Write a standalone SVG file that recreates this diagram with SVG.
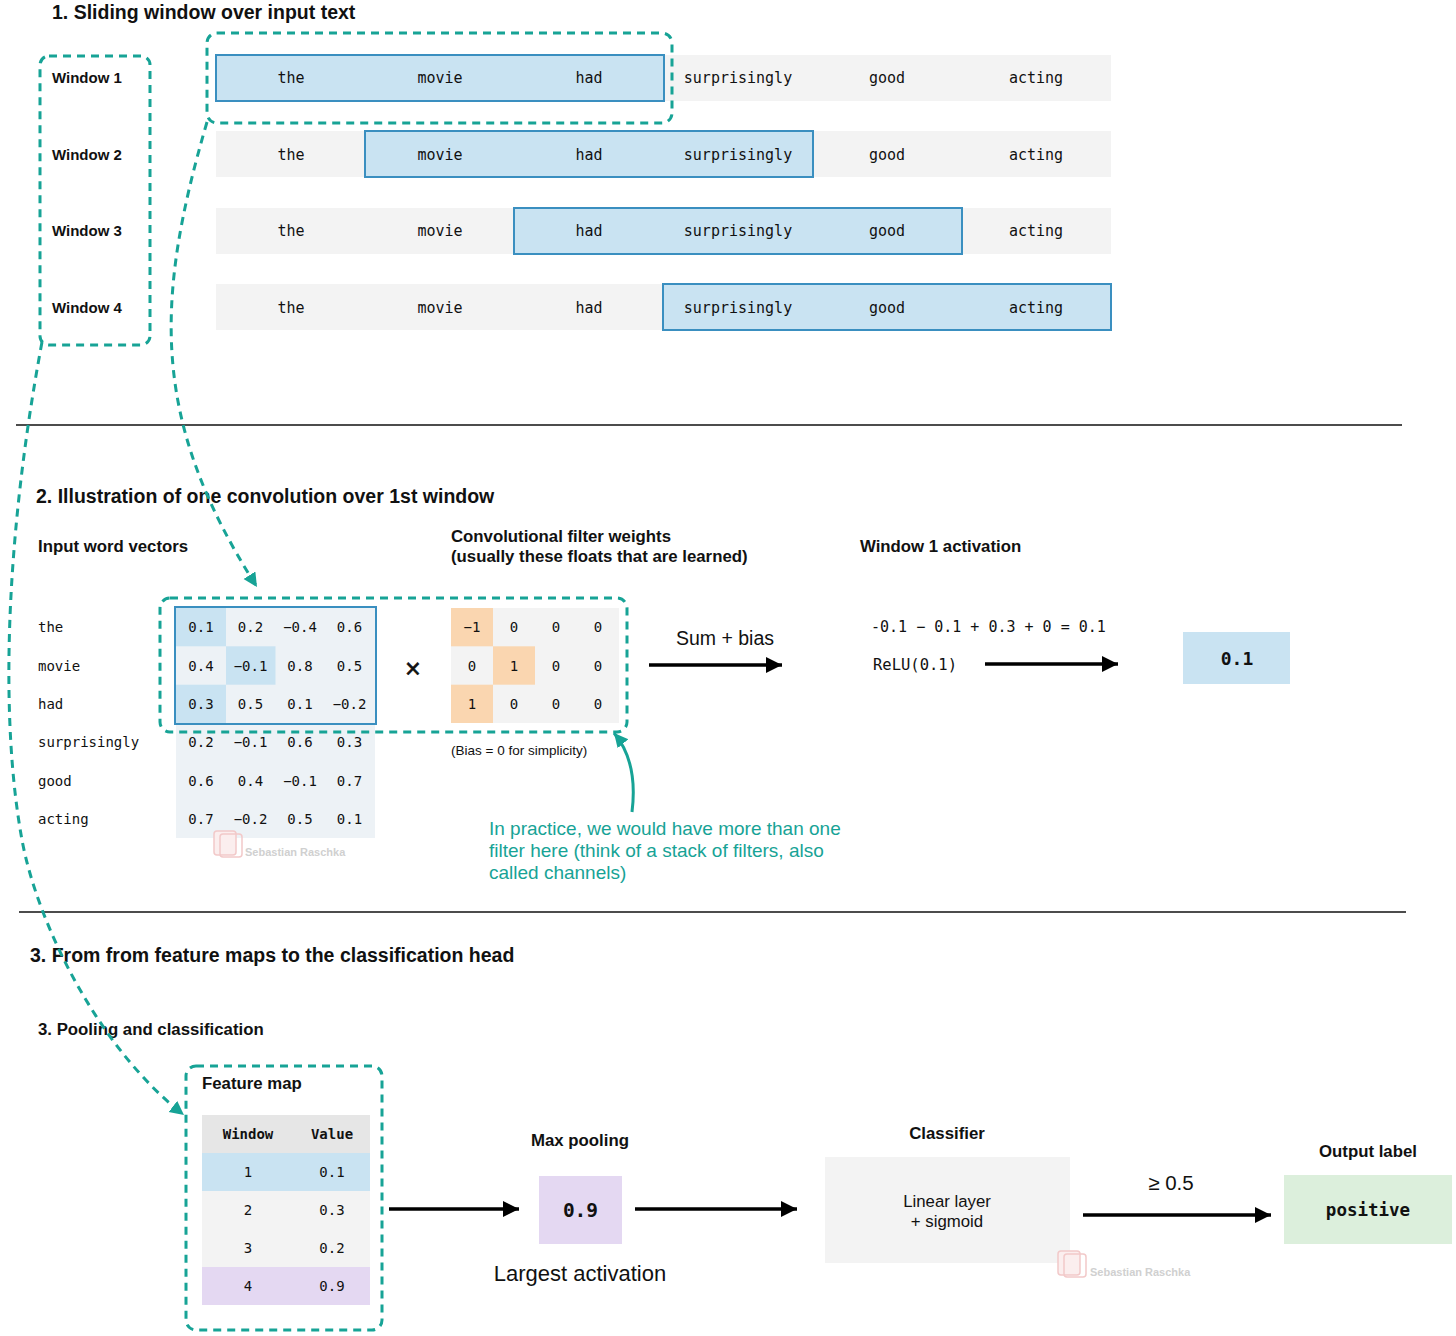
<svg xmlns="http://www.w3.org/2000/svg" width="1456" height="1336" viewBox="0 0 1456 1336">
<style>
.h1{font-family:"Liberation Sans",Arial,sans-serif;font-weight:bold;font-size:19.5px;fill:#111}
.h2{font-family:"Liberation Sans",Arial,sans-serif;font-weight:bold;font-size:16.8px;fill:#111}
.wl{font-family:"Liberation Sans",Arial,sans-serif;font-weight:bold;font-size:15px;fill:#111}
.sans{font-family:"Liberation Sans",Arial,sans-serif;fill:#111}
.mono{font-family:"DejaVu Sans Mono","Liberation Mono",monospace;fill:#111}
.w{font-size:15px;text-anchor:middle;dominant-baseline:central}
.m{font-size:14px;text-anchor:middle;dominant-baseline:central}
.lbl{font-size:14px;dominant-baseline:central}
.mb{font-weight:bold;text-anchor:middle;dominant-baseline:central}
.teal{font-family:"Liberation Sans",Arial,sans-serif;font-size:19px;fill:#17a396}
.wm{font-family:"Liberation Sans",Arial,sans-serif;font-weight:bold;font-size:11px;fill:#d0d0d0}
.bg{fill:#f3f3f3}
.hl{fill:#c9e3f2;stroke:#3a8fc0;stroke-width:2}
.dash{fill:none;stroke:#17a396;stroke-width:3;stroke-dasharray:8 6}
.arr{fill:none;stroke:#000;stroke-width:3.5}
.sep{stroke:#111;stroke-width:1.5}
</style>
<defs>
<marker id="ta" markerUnits="userSpaceOnUse" markerWidth="16" markerHeight="16" refX="14" refY="7" orient="auto"><path d="M0,0 L14,7 L0,14 z" fill="#17a396"/></marker>
<marker id="ba" markerUnits="userSpaceOnUse" markerWidth="18" markerHeight="18" refX="16" refY="8" orient="auto"><path d="M0,0 L16,8 L0,16 z" fill="#000"/></marker>
</defs>
<rect width="1456" height="1336" fill="#fff"/>

<!-- Section 1 -->
<text class="h1" x="52" y="19">1. Sliding window over input text</text>
<g id="window-labels">
<rect class="dash" x="40" y="56" width="110" height="289" rx="9"/>
<text class="wl" x="52" y="83">Window 1</text>
<text class="wl" x="52" y="160">Window 2</text>
<text class="wl" x="52" y="236">Window 3</text>
<text class="wl" x="52" y="313">Window 4</text>
</g>
<g id="row1">
<rect class="bg" x="216" y="55" width="895" height="46"/>
<rect class="hl" x="216" y="55" width="448" height="46"/>
<g class="mono w"><text x="291" y="78">the</text><text x="440" y="78">movie</text><text x="589" y="78">had</text><text x="738" y="78">surprisingly</text><text x="887" y="78">good</text><text x="1036" y="78">acting</text></g>
</g>
<g id="row2">
<rect class="bg" x="216" y="131" width="895" height="46"/>
<rect class="hl" x="365" y="131" width="448" height="46"/>
<g class="mono w"><text x="291" y="155">the</text><text x="440" y="155">movie</text><text x="589" y="155">had</text><text x="738" y="155">surprisingly</text><text x="887" y="155">good</text><text x="1036" y="155">acting</text></g>
</g>
<g id="row3">
<rect class="bg" x="216" y="208" width="895" height="46"/>
<rect class="hl" x="514" y="208" width="448" height="46"/>
<g class="mono w"><text x="291" y="231">the</text><text x="440" y="231">movie</text><text x="589" y="231">had</text><text x="738" y="231">surprisingly</text><text x="887" y="231">good</text><text x="1036" y="231">acting</text></g>
</g>
<g id="row4">
<rect class="bg" x="216" y="284" width="895" height="46"/>
<rect class="hl" x="663" y="284" width="448" height="46"/>
<g class="mono w"><text x="291" y="308">the</text><text x="440" y="308">movie</text><text x="589" y="308">had</text><text x="738" y="308">surprisingly</text><text x="887" y="308">good</text><text x="1036" y="308">acting</text></g>
</g>
<g id="window1-group"><rect class="dash" x="207" y="33" width="465" height="90" rx="10"/></g>

<line class="sep" x1="16" y1="425" x2="1402" y2="425"/>

<!-- Section 2 -->
<text class="h1" x="36" y="503">2. Illustration of one convolution over 1st window</text>
<text class="h2" x="38" y="552">Input word vectors</text>
<text class="h2" x="451" y="542">Convolutional filter weights</text>
<text class="h2" x="451" y="562">(usually these floats that are learned)</text>
<text class="h2" x="860" y="552">Window 1 activation</text>

<g id="word-labels" class="mono lbl">
<text x="38" y="627">the</text><text x="38" y="665.5">movie</text><text x="38" y="704">had</text>
<text x="38" y="742">surprisingly</text><text x="38" y="780.5">good</text><text x="38" y="819">acting</text>
</g>

<g id="input-matrix">
<rect x="176" y="608" width="199" height="230" fill="#edf2f6"/>
<rect x="176" y="608" width="50" height="38.3" fill="#c9e3f2"/>
<rect x="226" y="646.3" width="49.5" height="38.4" fill="#c9e3f2"/>
<rect x="176" y="684.7" width="50" height="38.3" fill="#c9e3f2"/>
<rect x="175" y="607" width="201" height="117" fill="none" stroke="#3a8fc0" stroke-width="2"/>
<g class="mono m">
<text x="201" y="627">0.1</text><text x="250.5" y="627">0.2</text><text x="300" y="627">−0.4</text><text x="349.5" y="627">0.6</text>
<text x="201" y="665.5">0.4</text><text x="250.5" y="665.5">−0.1</text><text x="300" y="665.5">0.8</text><text x="349.5" y="665.5">0.5</text>
<text x="201" y="704">0.3</text><text x="250.5" y="704">0.5</text><text x="300" y="704">0.1</text><text x="349.5" y="704">−0.2</text>
<text x="201" y="742">0.2</text><text x="250.5" y="742">−0.1</text><text x="300" y="742">0.6</text><text x="349.5" y="742">0.3</text>
<text x="201" y="780.5">0.6</text><text x="250.5" y="780.5">0.4</text><text x="300" y="780.5">−0.1</text><text x="349.5" y="780.5">0.7</text>
<text x="201" y="819">0.7</text><text x="250.5" y="819">−0.2</text><text x="300" y="819">0.5</text><text x="349.5" y="819">0.1</text>
</g>
</g>

<text class="sans" x="413" y="678" font-size="27" text-anchor="middle" stroke="#111" stroke-width="0.6">×</text>

<g id="filter-matrix">
<rect class="bg" x="451" y="608" width="168" height="115"/>
<rect x="451" y="608" width="42" height="38.3" fill="#fad6b0"/>
<rect x="493" y="646.3" width="42" height="38.4" fill="#fad6b0"/>
<rect x="451" y="684.7" width="42" height="38.3" fill="#fad6b0"/>
<g class="mono m">
<text x="472" y="627">−1</text><text x="514" y="627">0</text><text x="556" y="627">0</text><text x="598" y="627">0</text>
<text x="472" y="665.5">0</text><text x="514" y="665.5">1</text><text x="556" y="665.5">0</text><text x="598" y="665.5">0</text>
<text x="472" y="704">1</text><text x="514" y="704">0</text><text x="556" y="704">0</text><text x="598" y="704">0</text>
</g>
</g>
<g id="conv-group"><rect class="dash" x="160" y="598" width="467" height="134" rx="10"/></g>
<text class="sans" x="451" y="755" font-size="13.5">(Bias = 0 for simplicity)</text>

<g id="note">
<text class="teal" x="489" y="835">In practice, we would have more than one</text>
<text class="teal" x="489" y="857">filter here (think of a stack of filters, also</text>
<text class="teal" x="489" y="879">called channels)</text>
</g>

<g id="sum-bias">
<text class="sans" x="725" y="645" font-size="19.5" text-anchor="middle">Sum + bias</text>
</g>
<g id="relu">
<text class="mono" x="871" y="632" font-size="15">-0.1 − 0.1 + 0.3 + 0 = 0.1</text>
<text class="mono" x="873" y="670" font-size="15.5">ReLU(0.1)</text>
</g>
<g id="activation">
<rect x="1183" y="632" width="107" height="52" fill="#c9e3f2"/>
<text class="mono mb" x="1237" y="658" font-size="18">0.1</text>
</g>

<line class="sep" x1="19" y1="912" x2="1406" y2="912"/>

<!-- Section 3 -->
<text class="h1" x="30" y="962">3. From from feature maps to the classification head</text>
<text class="h2" x="38" y="1035">3. Pooling and classification</text>

<g id="feature-map">
<rect class="dash" x="186" y="1066" width="196" height="264" rx="10"/>
<text class="h2" x="202" y="1089">Feature map</text>
<rect x="202" y="1115" width="168" height="38" fill="#e6e6e6"/>
<rect x="202" y="1153" width="168" height="38" fill="#c9e3f2"/>
<rect x="202" y="1191" width="168" height="76" fill="#f3f3f3"/>
<rect x="202" y="1267" width="168" height="38" fill="#e4d8f2"/>
<g class="mono m">
<text x="248" y="1134" font-weight="bold">Window</text><text x="332" y="1134" font-weight="bold">Value</text>
<text x="248" y="1172">1</text><text x="332" y="1172">0.1</text>
<text x="248" y="1210">2</text><text x="332" y="1210">0.3</text>
<text x="248" y="1248">3</text><text x="332" y="1248">0.2</text>
<text x="248" y="1286">4</text><text x="332" y="1286">0.9</text>
</g>
</g>

<g id="max-pooling">
<text class="h2" x="580" y="1146" text-anchor="middle">Max pooling</text>
<rect x="539" y="1176" width="83" height="68" fill="#e4d8f2"/>
<text class="mono mb" x="580.5" y="1210" font-size="19.5">0.9</text>
<text class="sans" x="580" y="1281" font-size="22" text-anchor="middle">Largest activation</text>
</g>

<g id="classifier">
<text class="h2" x="947" y="1139" text-anchor="middle">Classifier</text>
<rect class="bg" x="825" y="1157" width="245" height="106"/>
<text class="sans" x="947" y="1207" font-size="16.8" text-anchor="middle">Linear layer</text>
<text class="sans" x="947" y="1227" font-size="16.8" text-anchor="middle">+ sigmoid</text>
</g>
<text class="sans" x="1171" y="1190" font-size="20.5" text-anchor="middle">≥ 0.5</text>

<g id="output-label">
<text class="h2" x="1368" y="1157" text-anchor="middle">Output label</text>
<rect x="1284" y="1175" width="168" height="69" fill="#dcefdc"/>
<text class="mono mb" x="1368" y="1210" font-size="17.5">positive</text>
</g>

<g id="watermarks">
<rect x="214" y="831" width="22" height="24" rx="3" fill="#fbeeee" stroke="#f2c9c9" stroke-width="1.5"/>
<rect x="220" y="834" width="22" height="23" rx="3" fill="none" stroke="#f2c9c9" stroke-width="1.5"/>
<text class="wm" x="245" y="856">Sebastian Raschka</text>
<rect x="1058" y="1251" width="22" height="24" rx="3" fill="#fbeeee" stroke="#f2c9c9" stroke-width="1.5"/>
<rect x="1064" y="1254" width="22" height="23" rx="3" fill="none" stroke="#f2c9c9" stroke-width="1.5"/>
<text class="wm" x="1090" y="1276">Sebastian Raschka</text>
</g>

<g id="connectors">
<path class="dash" d="M207,122 C155,300 150,420 257,587" marker-end="url(#ta)"/>
<path class="dash" d="M42,342 C5,540 0,720 22,840 C38,926 100,1050 184,1115" marker-end="url(#ta)"/>
<path d="M632,812 C636,780 630,752 614,733" fill="none" stroke="#17a396" stroke-width="3" marker-end="url(#ta)"/>
<line class="arr" x1="649" y1="665" x2="782" y2="665" marker-end="url(#ba)"/>
<line class="arr" x1="985" y1="664" x2="1118" y2="664" marker-end="url(#ba)"/>
<line class="arr" x1="389" y1="1209" x2="519" y2="1209" marker-end="url(#ba)"/>
<line class="arr" x1="635" y1="1209" x2="797" y2="1209" marker-end="url(#ba)"/>
<line class="arr" x1="1083" y1="1215" x2="1271" y2="1215" marker-end="url(#ba)"/>
</g>
</svg>
